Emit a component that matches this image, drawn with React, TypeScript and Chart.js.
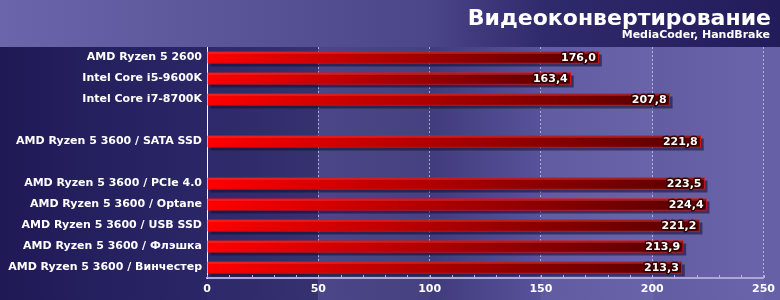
import React, { useEffect, useRef } from 'react';
import { Chart, registerables } from 'chart.js';

Chart.register(...registerables);

const categories = [
  'AMD Ryzen 5 2600',
  'Intel Core i5-9600K',
  'Intel Core i7-8700K',
  '',
  'AMD Ryzen 5 3600 / SATA SSD',
  '',
  'AMD Ryzen 5 3600 / PCIe 4.0',
  'AMD Ryzen 5 3600 / Optane',
  'AMD Ryzen 5 3600 / USB SSD',
  'AMD Ryzen 5 3600 / Флэшка',
  'AMD Ryzen 5 3600 / Винчестер',
];
const values: (number | null)[] = [176.0, 163.4, 207.8, null, 221.8, null, 223.5, 224.4, 221.2, 213.9, 213.3];
const xTickLabels = [0, 50, 100, 150, 200, 250];
const titleText = 'Видеоконвертирование';
const subtitleText = 'MediaCoder, HandBrake';

const FONT = '"DejaVu Sans", Verdana, sans-serif';
const fmt = (v: number) => v.toFixed(1).replace('.', ',');

const bgPlugin = {
  id: 'bgPlugin',
  beforeDraw(chart: any) {
    const { ctx, chartArea, scales } = chart;
    if (!chartArea) return;
    const W = chart.width;
    const H = chart.height;
    const xs = scales.x;
    ctx.save();
    let g = ctx.createLinearGradient(0, 0, W, 0);
    g.addColorStop(0, '#6b65ab');
    g.addColorStop(0.55, '#4b4589');
    g.addColorStop(0.7, '#2f2a6b');
    g.addColorStop(1, '#221c5b');
    ctx.fillStyle = g;
    ctx.fillRect(0, 0, W, chartArea.top);

    g = ctx.createLinearGradient(0, 0, chartArea.left, 0);
    g.addColorStop(0, '#1f1a56');
    g.addColorStop(1, '#2b2667');
    ctx.fillStyle = g;
    ctx.fillRect(0, chartArea.top, chartArea.left, H - chartArea.top);

    const bands = [
      ['#2d296a', '#36316f'],
      ['#4b4688', '#46417f'],
      ['#403b7c', '#58529b'],
      ['#615ba1', '#6963a9'],
      ['#625da2', '#6a65aa'],
    ];
    let lastX = chartArea.left;
    for (let i = 0; i < xTickLabels.length - 1; i++) {
      const xa = xs.getPixelForValue(xTickLabels[i]);
      const xb = xs.getPixelForValue(xTickLabels[i + 1]);
      const bg = ctx.createLinearGradient(xa, 0, xb, 0);
      bg.addColorStop(0, bands[i][0]);
      bg.addColorStop(1, bands[i][1]);
      ctx.fillStyle = bg;
      ctx.fillRect(xa, chartArea.top, xb - xa + 0.5, H - chartArea.top);
      lastX = xb;
    }
    ctx.fillStyle = '#6660a6';
    ctx.fillRect(lastX, chartArea.top, W - lastX, H - chartArea.top);

    // title
    ctx.fillStyle = '#ffffff';
    ctx.textAlign = 'right';
    ctx.textBaseline = 'alphabetic';
    ctx.font = `bold 22px ${FONT}`;
    ctx.fillText(titleText, 771, 25);
    ctx.font = `bold 11px ${FONT}`;
    ctx.fillText(subtitleText, 770, 38);
    ctx.restore();
  },
  beforeDatasetsDraw(chart: any) {
    const { ctx } = chart;
    const meta = chart.getDatasetMeta(0);
    ctx.save();
    ctx.fillStyle = 'rgba(18,12,50,0.55)';
    meta.data.forEach((bar: any, i: number) => {
      if (values[i] == null) return;
      const { x, y, base, height } = bar.getProps(['x', 'y', 'base', 'height'], true);
      ctx.fillRect(base + 3, y - height / 2 + 3, x - base, height);
    });
    ctx.restore();
  },
  afterDatasetsDraw(chart: any) {
    const { ctx } = chart;
    const meta = chart.getDatasetMeta(0);
    ctx.save();
    // top highlight on bars
    meta.data.forEach((bar: any, i: number) => {
      if (values[i] == null) return;
      const { x, y, base, height } = bar.getProps(['x', 'y', 'base', 'height'], true);
      ctx.fillStyle = 'rgba(255,90,90,0.55)';
      ctx.fillRect(base, y - height / 2 + 1, x - base - 1, 1);
    });
    ctx.font = `bold 11px ${FONT}`;
    ctx.textAlign = 'right';
    ctx.textBaseline = 'middle';
    ctx.lineJoin = 'round';
    meta.data.forEach((bar: any, i: number) => {
      const v = values[i];
      if (v == null) return;
      const { x, y } = bar.getProps(['x', 'y'], true);
      const t = fmt(v);
      ctx.strokeStyle = 'rgba(45,0,0,0.9)';
      ctx.lineWidth = 3;
      ctx.strokeText(t, x - 3, y + 0.5);
      ctx.fillStyle = '#ffffff';
      ctx.fillText(t, x - 3, y + 0.5);
    });
    // minor ticks on x axis
    const xs = chart.scales.x;
    const bottom = chart.chartArea.bottom;
    ctx.strokeStyle = '#b7b3de';
    ctx.lineWidth = 1;
    xs.ticks.forEach((tk: any) => {
      const px = Math.round(xs.getPixelForValue(tk.value)) + 0.5;
      ctx.beginPath();
      ctx.moveTo(px, bottom - 3);
      ctx.lineTo(px, bottom);
      ctx.stroke();
    });
    ctx.restore();
  },
};

export default function App() {
  const ref = useRef<HTMLCanvasElement | null>(null);
  useEffect(() => {
    document.body.style.margin = '0';
    const canvas = ref.current;
    if (!canvas) return;
    const chart = new Chart(canvas, {
      type: 'bar',
      data: {
        labels: categories,
        datasets: [
          {
            data: values as any,
            barThickness: 12,
            borderWidth: 1,
            borderColor: '#e01414',
            borderSkipped: 'start',
            backgroundColor: (c: any) => {
              const xs = c.chart.scales?.x;
              const raw = c.raw;
              if (!xs || raw == null || !c.chart.chartArea) return '#c00000';
              const x0 = xs.getPixelForValue(0);
              const x1 = xs.getPixelForValue(raw);
              if (!isFinite(x0) || !isFinite(x1) || x1 <= x0) return '#c00000';
              const g = c.chart.ctx.createLinearGradient(x0, 0, x1, 0);
              g.addColorStop(0, '#ff0000');
              g.addColorStop(0.5, '#a80000');
              g.addColorStop(1, '#560000');
              return g;
            },
          },
        ],
      },
      options: {
        indexAxis: 'y',
        animation: false,
        responsive: false,
        events: [],
        layout: { padding: { top: 47, right: 16, left: 0, bottom: 0 } },
        plugins: {
          legend: { display: false },
          tooltip: { enabled: false },
          title: { display: false },
        },
        scales: {
          x: {
            type: 'linear',
            min: 0,
            max: 250,
            afterFit: (s: any) => {
              s.height = 22;
            },
            ticks: {
              stepSize: 10,
              autoSkip: false,
              maxRotation: 0,
              padding: 5,
              color: '#ffffff',
              font: { family: FONT, weight: 'bold', size: 11 },
              callback: (v: any) => (Number(v) % 50 === 0 ? String(v) : ''),
            },
            grid: {
              drawTicks: false,
              lineWidth: 1,
              color: (c: any) =>
                c.tick && c.tick.value % 50 === 0 && c.tick.value > 0 ? 'rgba(205,200,240,0.75)' : 'rgba(0,0,0,0)',
            },
            border: { display: true, color: '#aba7d8', width: 2, dash: [2, 2] },
          },
          y: {
            afterFit: (s: any) => {
              s.width = 207;
            },
            ticks: {
              color: '#ffffff',
              padding: 5,
              font: { family: FONT, weight: 'bold', size: 11 },
            },
            grid: { display: false, drawTicks: false },
            border: { display: true, color: '#ffffff', width: 1 },
          },
        },
      },
      plugins: [bgPlugin],
    } as any);
    return () => chart.destroy();
  }, []);
  return (
    <div style={{ width: 780, height: 300 }}>
      <canvas ref={ref} width={780} height={300} style={{ display: 'block' }} />
    </div>
  );
}
